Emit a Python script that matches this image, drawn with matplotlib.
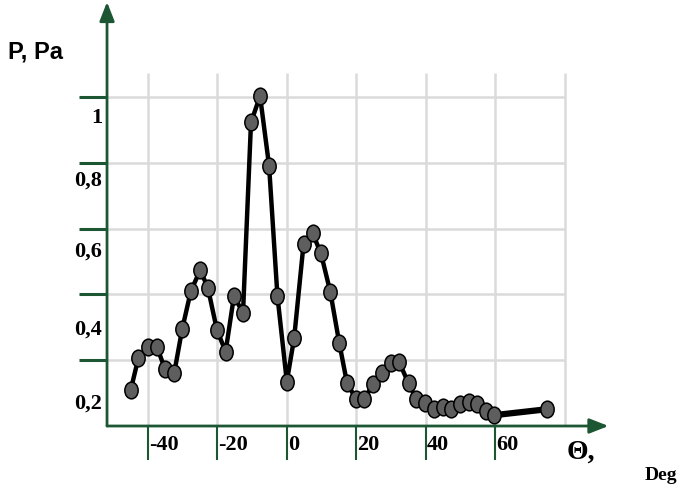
import matplotlib.pyplot as plt
from matplotlib.path import Path
from matplotlib.markers import MarkerStyle
from matplotlib.transforms import Affine2D

# Pressure vs. angle measurements
theta = [-44.9, -42.7, -40.0, -37.4, -35.0, -32.4, -30.1, -27.6, -24.9, -22.7,
         -20.1, -17.6, -15.2, -12.6, -10.3, -7.7, -5.1, -2.7, 0.0, 2.1,
         4.8, 7.4, 9.8, 12.5, 15.1, 17.3, 19.9, 22.2, 24.9, 27.5,
         29.9, 32.3, 35.0, 37.2, 39.8, 42.2, 44.8, 47.3, 49.7, 52.3,
         54.8, 57.4, 59.7]
pressure = [0.109, 0.206, 0.241, 0.241, 0.173, 0.160, 0.294, 0.410, 0.474, 0.420,
            0.292, 0.226, 0.395, 0.344, 0.923, 1.003, 0.791, 0.395, 0.135, 0.267,
            0.552, 0.586, 0.525, 0.408, 0.251, 0.131, 0.082, 0.082, 0.127, 0.160,
            0.191, 0.194, 0.130, 0.082, 0.071, 0.052, 0.057, 0.051, 0.067, 0.074,
            0.067, 0.047, 0.033]
# last reading, joined with a plain thick segment
theta_end = 74.8
pressure_end = 0.051

xticks = [-40, -20, 0, 20, 40, 60]
xtick_labels = ["-40", "-20", "0", "20", "40", "60"]
xgrid = [-40, -20, 0, 20, 40, 60, 80]
yticks = [0.2, 0.4, 0.6, 0.8, 1.0]
ytick_labels = ["0,2", "0,4", "0,6", "0,8", "1"]

# label placement (they sit below their tick marks)
ylabel_pos = [0.067, 0.292, 0.529, 0.745, 0.936]

green = "#1d5632"
grid_col = "#dadada"
serif = "Liberation Serif"

fig = plt.figure(figsize=(6.83, 4.90), dpi=100)
ax = fig.add_axes([0.1567, 0.1306, 0.6706, 0.6714])
xmin, xmax = -51.7, 80
ax.set_xlim(xmin, xmax)
ax.set_ylim(0, 1.0)
ax.axis("off")

# -------------------------------
# grid
# -------------------------------
ax.hlines(yticks, xmin, xmax, color=grid_col, lw=1.8, zorder=0, clip_on=False)
ax.vlines(xgrid, 0, 1.073, color=grid_col, lw=1.8, zorder=0, clip_on=False)

# -------------------------------
# axes with arrows
# -------------------------------
arrow = dict(arrowstyle="-|>,head_length=1.15,head_width=0.45", color=green,
             lw=2, mutation_scale=10, shrinkA=0, shrinkB=0)
ax.annotate("", xy=(xmin, 1.289), xytext=(xmin, 0), arrowprops=arrow,
            annotation_clip=False)
ax.annotate("", xy=(92.5, 0), xytext=(xmin, 0), arrowprops=arrow,
            annotation_clip=False)

ax.hlines(yticks, -59.8, xmin, color=green, lw=2.2, clip_on=False)
ax.vlines(xticks, -0.103, 0, color=green, lw=1.5, clip_on=False)

for y, lab in zip(ylabel_pos, ytick_labels):
    ax.text(-53.1, y, lab, ha="right", va="center", fontsize=16,
            fontweight="bold", family=serif)
for x, lab in zip(xticks, xtick_labels):
    ax.text(x + 0.3, -0.058, lab, ha="left", va="center", fontsize=16,
            fontweight="bold", family=serif)

# -------------------------------
# data curve
# -------------------------------
oval = MarkerStyle(Path.unit_circle().transformed(Affine2D().scale(0.8, 1.0)))
ax.plot([theta[-1], theta_end], [pressure[-1], pressure_end], color="black",
        lw=4.5, solid_capstyle="butt", zorder=3, clip_on=False)
ax.plot(theta, pressure, color="black", lw=3.2, zorder=3, clip_on=False)
ax.plot(theta + [theta_end], pressure + [pressure_end], ls="none", marker=oval,
        markersize=12, markerfacecolor="#5e5e5e", markeredgecolor="black",
        markeredgewidth=1.1, zorder=4, clip_on=False)

# -------------------------------
# axis titles
# -------------------------------
fig.text(36 / 683, 1 - 52 / 490, "P, Pa", ha="center", va="center",
         fontsize=17, fontweight="bold", family="Liberation Sans")
fig.text(581 / 683, 1 - 452 / 490, "\u0398,", ha="center", va="center",
         fontsize=20, fontweight="bold", family=serif)
fig.text(661 / 683, 1 - 475 / 490, "Deg", ha="center", va="center",
         fontsize=14, fontweight="bold", family=serif)

plt.savefig("out.png", dpi=100)
plt.close()
